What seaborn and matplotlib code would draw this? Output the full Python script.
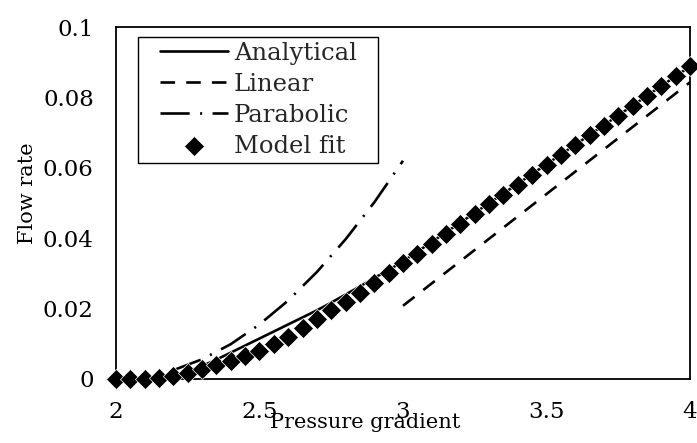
import matplotlib
matplotlib.use("Agg")
import matplotlib.pyplot as plt
import seaborn as sns
from matplotlib.legend_handler import HandlerLine2D, HandlerPathCollection

# ---- data ----
fit_x = [2.00, 2.05, 2.10, 2.15, 2.20, 2.25, 2.30, 2.35, 2.40, 2.45, 2.50,
         2.55, 2.60, 2.65, 2.70, 2.75, 2.80, 2.85, 2.90, 2.95, 3.00,
         3.05, 3.10, 3.15, 3.20, 3.25, 3.30, 3.35, 3.40, 3.45, 3.50,
         3.55, 3.60, 3.65, 3.70, 3.75, 3.80, 3.85, 3.90, 3.95, 4.00]
fit_y = [0.0, 0.0, 0.0, 0.0002, 0.0009, 0.0018, 0.0029, 0.0040, 0.0052, 0.0065, 0.0080,
         0.0099, 0.0120, 0.0145, 0.0170, 0.0195, 0.0220, 0.0245, 0.0273, 0.0300, 0.0329,
         0.0356, 0.0384, 0.0412, 0.0440, 0.0468, 0.0496, 0.0524, 0.0552, 0.0580, 0.0608,
         0.0636, 0.0664, 0.0692, 0.0720, 0.0748, 0.0776, 0.0804, 0.0832, 0.0860, 0.0888]

analytical_x = [2.15, 2.20, 2.25, 2.30, 2.35, 2.40, 2.45, 2.50, 2.55, 2.60, 2.65,
                2.70, 2.75, 2.80, 2.85, 2.90, 2.95, 3.00, 3.25, 3.50, 3.75, 4.00]
analytical_y = [0.0, 0.0008, 0.0021, 0.0037, 0.0055, 0.0075, 0.0095, 0.0115, 0.0135, 0.0155, 0.0175,
                0.0195, 0.0217, 0.0240, 0.0263, 0.0287, 0.0310, 0.0334, 0.0472, 0.0610, 0.0749, 0.0888]

linear_x = [3.0, 4.0]
linear_y = [0.0208, 0.0843]

parabolic_x = [2.2, 2.3, 2.4, 2.5, 2.6, 2.7, 2.8, 2.9, 3.0]
parabolic_y = [0.0025, 0.0056, 0.0099, 0.0155, 0.0223, 0.0304, 0.0397, 0.0502, 0.0620]

xticks = [2, 2.5, 3, 3.5, 4]
xtick_labels = ["2", "2.5", "3", "3.5", "4"]
yticks = [0, 0.02, 0.04, 0.06, 0.08, 0.1]
ytick_labels = ["0", "0.02", "0.04", "0.06", "0.08", "0.1"]

# ---- style ----
sns.set_theme(style="white")
plt.rcParams['font.family'] = ['DejaVu Serif']
plt.rcParams['lines.scale_dashes'] = False
TICK_FS = 16.5
LAB_FS = 15
LEG_FS = 17.5

fig = plt.figure(figsize=(6.97, 4.43), dpi=100)
ax = fig.add_axes([0.1664, 0.1445, 0.8236, 0.7945])

lw = 1.9
sns.lineplot(x=analytical_x, y=analytical_y, ax=ax, color="black", lw=lw,
             label="Analytical", zorder=2, estimator=None, sort=False)
sns.lineplot(x=linear_x, y=linear_y, ax=ax, color="black", lw=lw,
             linestyle=(0, (10.5, 8.0)), label="Linear", zorder=2,
             estimator=None, sort=False)
sns.lineplot(x=parabolic_x, y=parabolic_y, ax=ax, color="black", lw=lw,
             linestyle=(0, (21, 7.5, 1.5, 7.5)), label="Parabolic", zorder=2,
             estimator=None, sort=False)
sns.scatterplot(x=fit_x, y=fit_y, ax=ax, color="black", marker="D", s=105,
                edgecolor="white", linewidth=0.5, label="Model fit", zorder=3,
                clip_on=False)

ax.set_xlim(2, 4)
ax.set_ylim(0, 0.1)
ax.set_xticks(xticks)
ax.set_xticklabels(xtick_labels)
ax.set_yticks(yticks)
ax.set_yticklabels(ytick_labels)
ax.tick_params(axis="both", direction="in", length=7, width=1.2, color="black",
               labelsize=TICK_FS, labelcolor="black")
ax.tick_params(axis="y", pad=16)
ax.tick_params(axis="x", pad=16)
for sp in ax.spines.values():
    sp.set_visible(True)
    sp.set_color("black")
    sp.set_linewidth(1.3)

ax.set_xlabel("Pressure gradient", fontsize=LAB_FS, color="black")
ax.set_ylabel("Flow rate", fontsize=LAB_FS, color="black")
ax.xaxis.set_label_coords(0.434, -0.098)
ax.yaxis.set_label_coords(-0.138, 0.527)

# legend handles shifted right inside the handle box
SHIFT = 12.2  # points


class ShiftLine(HandlerLine2D):
    def create_artists(self, legend, orig_handle, xdescent, ydescent, width,
                       height, fontsize, trans):
        return super().create_artists(legend, orig_handle, xdescent - SHIFT,
                                      ydescent, width - SHIFT, height,
                                      fontsize, trans)


class ShiftScatter(HandlerPathCollection):
    def create_artists(self, legend, orig_handle, xdescent, ydescent, width,
                       height, fontsize, trans):
        return super().create_artists(legend, orig_handle, xdescent - SHIFT,
                                      ydescent, width - SHIFT, height,
                                      fontsize, trans)


handles, labels = ax.get_legend_handles_labels()
hmap = {}
for h in handles:
    if isinstance(h, matplotlib.lines.Line2D):
        hmap[h] = ShiftLine()
    else:
        hmap[h] = ShiftScatter()

leg = ax.legend(handles, labels, loc="upper left",
                bbox_to_anchor=(0.0383, 0.0, 0.418, 0.972), mode="expand",
                borderaxespad=0, fontsize=LEG_FS, frameon=True, fancybox=False,
                edgecolor="black", framealpha=1, handlelength=3.5,
                handletextpad=0.25, labelspacing=0.33, borderpad=0.2,
                scatterpoints=1, handler_map=hmap)
leg.get_frame().set_linewidth(1.0)

fig.savefig("out.png", dpi=100)
